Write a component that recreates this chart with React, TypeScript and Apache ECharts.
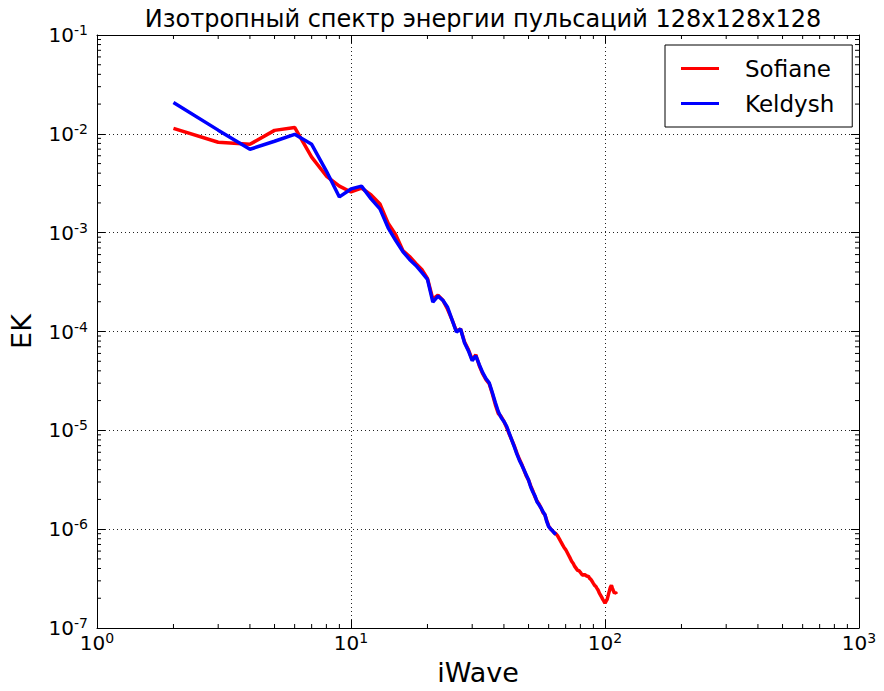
import React, { useEffect, useRef } from "react";
import * as echarts from "echarts";

const FONT = "DejaVu Sans";

const titleText = "Изотропный спектр энергии пульсаций 128x128x128";
const xName = "iWave";
const yName = "EK";
const seriesNames = ["Sofiane", "Keldysh"];

const kSofiane = [
  2, 3, 4, 5, 6, 7, 8, 9, 10, 11, 12, 13, 14, 15, 16, 17, 18, 19, 20, 21,
  22, 23, 24, 25, 26, 27, 28, 29, 30, 31, 32, 33, 34, 35, 36, 37, 38, 39, 40, 41,
  42, 43, 44, 45, 46, 47, 48, 49, 50, 51, 52, 53, 54, 55, 56, 57, 58, 59, 60, 61,
  62, 63, 64, 65, 66, 67, 68, 69, 70, 71, 72, 73, 74, 75, 76, 77, 78, 79, 80, 81,
  82, 83, 84, 85, 86, 87, 88, 89, 90, 91, 92, 93, 94, 95, 96, 97, 98, 99, 100, 101,
  102, 103, 104, 105, 106, 107, 108, 109, 110, 111,
];
const ekSofiane = [
  1.135e-2, 8.22e-3, 7.83e-3, 1.084e-2, 1.161e-2, 5.81e-3, 3.74e-3, 2.96e-3, 2.58e-3, 2.83e-3,
  2.41e-3, 1.95e-3, 1.25e-3, 9.55e-4, 6.59e-4, 5.74e-4, 4.88e-4, 4.25e-4, 3.45e-4, 2.12e-4,
  2.33e-4, 2.07e-4, 1.68e-4, 1.31e-4, 1.01e-4, 1.06e-4, 7.84e-5, 6.52e-5, 5.18e-5, 5.81e-5,
  4.5e-5, 3.74e-5, 3.26e-5, 2.96e-5, 2.36e-5, 1.82e-5, 1.48e-5, 1.38e-5, 1.23e-5, 1.07e-5,
  9.12e-6, 7.93e-6, 6.9e-6, 5.87e-6, 5.12e-6, 4.55e-6, 3.96e-6, 3.45e-6, 3.14e-6, 2.74e-6,
  2.44e-6, 2.12e-6, 1.93e-6, 1.8e-6, 1.64e-6, 1.47e-6, 1.4e-6, 1.22e-6, 1.08e-6, 1.01e-6,
  9.66e-7, 9.23e-7, 9.02e-7, 8.61e-7, 8.03e-7, 7.48e-7, 6.98e-7, 6.52e-7, 6.22e-7, 5.81e-7,
  5.42e-7, 5.06e-7, 4.71e-7, 4.5e-7, 4.2e-7, 4.01e-7, 3.83e-7, 3.8e-7, 3.66e-7, 3.49e-7,
  3.41e-7, 3.47e-7, 3.41e-7, 3.33e-7, 3.35e-7, 3.18e-7, 3.1e-7, 2.97e-7, 2.83e-7, 2.7e-7,
  2.64e-7, 2.52e-7, 2.41e-7, 2.25e-7, 2.15e-7, 2.05e-7, 1.95e-7, 1.87e-7, 1.78e-7, 1.87e-7,
  1.95e-7, 2.15e-7, 2.36e-7, 2.58e-7, 2.7e-7, 2.52e-7, 2.36e-7, 2.25e-7, 2.3e-7, 2.2e-7,
];

const kKeldysh = [
  2, 3, 4, 5, 6, 7, 8, 9, 10, 11, 12, 13, 14, 15, 16, 17, 18, 19, 20, 21,
  22, 23, 24, 25, 26, 27, 28, 29, 30, 31, 32, 33, 34, 35, 36, 37, 38, 39, 40, 41,
  42, 43, 44, 45, 46, 47, 48, 49, 50, 51, 52, 53, 54, 55, 56, 57, 58, 59, 60, 61,
  62, 63, 64,
];
const ekKeldysh = [
  2.07e-2, 1.09e-2, 6.98e-3, 8.41e-3, 9.89e-3, 7.83e-3, 4.2e-3, 2.3e-3, 2.77e-3, 2.96e-3,
  2.2e-3, 1.74e-3, 1.12e-3, 8.32e-4, 6.44e-4, 5.36e-4, 4.66e-4, 3.96e-4, 3.37e-4, 1.98e-4,
  2.28e-4, 2.07e-4, 1.76e-4, 1.31e-4, 9.89e-5, 1.06e-4, 7.66e-5, 6.37e-5, 5.06e-5, 5.68e-5,
  4.61e-5, 3.83e-5, 3.33e-5, 3.03e-5, 2.41e-5, 1.91e-5, 1.55e-5, 1.35e-5, 1.23e-5, 1.1e-5,
  9.33e-6, 7.93e-6, 6.75e-6, 5.74e-6, 4.99e-6, 4.45e-6, 3.96e-6, 3.53e-6, 3.14e-6, 2.67e-6,
  2.38e-6, 2.17e-6, 1.89e-6, 1.76e-6, 1.64e-6, 1.5e-6, 1.4e-6, 1.19e-6, 1.06e-6, 1.01e-6,
  9.66e-7, 9.23e-7, 8.81e-7,
];

const X_MIN = 1;
const X_MAX = 1000;
const Y_MIN = 1e-7;
const Y_MAX = 1e-1;

const xMinorTicks = [
  2, 3, 4, 5, 6, 7, 8, 9, 20, 30, 40, 50, 60, 70, 80, 90, 200, 300, 400, 500, 600, 700, 800, 900,
];
const yMinorTicks = [
  2e-7, 3e-7, 4e-7, 5e-7, 6e-7, 7e-7, 8e-7, 9e-7,
  2e-6, 3e-6, 4e-6, 5e-6, 6e-6, 7e-6, 8e-6, 9e-6,
  2e-5, 3e-5, 4e-5, 5e-5, 6e-5, 7e-5, 8e-5, 9e-5,
  2e-4, 3e-4, 4e-4, 5e-4, 6e-4, 7e-4, 8e-4, 9e-4,
  2e-3, 3e-3, 4e-3, 5e-3, 6e-3, 7e-3, 8e-3, 9e-3,
  2e-2, 3e-2, 4e-2, 5e-2, 6e-2, 7e-2, 8e-2, 9e-2,
];

const powLabel = (v: number) => {
  const e = Math.round(Math.log10(v));
  return `{a|10}{b|${e}}`;
};

const richLabel = {
  a: { fontSize: 20, fontFamily: FONT, color: "#000", lineHeight: 24 },
  b: { fontSize: 14, fontFamily: FONT, color: "#000", lineHeight: 12, verticalAlign: "top" },
};

const MINOR = 4;
const MAJOR = 8;

export default function App() {
  const ref = useRef<HTMLDivElement>(null);
  useEffect(() => {
    if (!ref.current) return;
    const chart = echarts.init(ref.current, null, { renderer: "svg" });
    const tickStyle = { stroke: "#000", lineWidth: 1 };
    const baseX = {
      type: "log",
      logBase: 10,
      min: X_MIN,
      max: X_MAX,
      axisLine: { show: true, lineStyle: { color: "#000", width: 1 } },
      axisTick: { show: true, inside: true, length: MAJOR, lineStyle: { color: "#000" } },
      minorTick: { show: false },
    };
    const baseY = {
      type: "log",
      logBase: 10,
      min: Y_MIN,
      max: Y_MAX,
      axisLine: { show: true, lineStyle: { color: "#000", width: 1 } },
      axisTick: { show: true, inside: true, length: MAJOR, lineStyle: { color: "#000" } },
      minorTick: { show: false },
    };
    chart.setOption({
      animation: false,
      backgroundColor: "#fff",
      title: {
        text: titleText,
        left: 478,
        top: 2,
        textAlign: "center",
        textStyle: { fontFamily: FONT, fontSize: 24, fontWeight: "normal", color: "#000" },
      },
      grid: { left: 97, right: 25, top: 35, bottom: 59, containLabel: false },
      legend: {
        data: seriesNames,
        orient: "vertical",
        left: 665,
        top: 45,
        padding: [11, 18, 11, 16],
        itemWidth: 38,
        itemHeight: 3,
        itemGap: 10,
        icon: "rect",
        borderColor: "#000",
        borderWidth: 1,
        borderRadius: 0,
        backgroundColor: "#fff",
        textStyle: { fontFamily: FONT, fontSize: 23, lineHeight: 25, color: "#000", padding: [0, 0, 0, 21] },
      },
      xAxis: [
        {
          ...baseX,
          position: "bottom",
          name: xName,
          nameLocation: "middle",
          nameGap: 31,
          nameTextStyle: { fontFamily: FONT, fontSize: 27, color: "#000" },
          axisLabel: { formatter: powLabel, rich: richLabel, margin: 3 },
          splitLine: { show: true, lineStyle: { color: "#222", type: [1, 3], width: 1 } },
        },
        {
          ...baseX,
          position: "top",
          axisLabel: { show: false },
          splitLine: { show: false },
        },
      ],
      yAxis: [
        {
          ...baseY,
          position: "left",
          name: yName,
          nameLocation: "middle",
          nameGap: 62,
          nameTextStyle: { fontFamily: FONT, fontSize: 27, color: "#000" },
          axisLabel: { formatter: powLabel, rich: richLabel, margin: 9 },
          splitLine: { show: true, lineStyle: { color: "#222", type: [1, 3], width: 1 } },
        },
        {
          ...baseY,
          position: "right",
          axisLabel: { show: false },
          splitLine: { show: false },
        },
      ],
      series: [
        {
          name: seriesNames[0],
          type: "line",
          data: kSofiane.map((k, i) => [k, ekSofiane[i]]),
          symbol: "none",
          lineStyle: { color: "#ff0000", width: 3.5 },
          itemStyle: { color: "#ff0000" },
          z: 3,
        },
        {
          name: seriesNames[1],
          type: "line",
          data: kKeldysh.map((k, i) => [k, ekKeldysh[i]]),
          symbol: "none",
          lineStyle: { color: "#0000ff", width: 3.5 },
          itemStyle: { color: "#0000ff" },
          z: 4,
        },
        {
          type: "custom",
          name: "xminor",
          silent: true,
          data: xMinorTicks.map((v) => [v, 1e-4]),
          renderItem: (params: any, api: any) => {
            const v = api.value(0);
            const b = api.coord([v, Y_MIN]);
            const t = api.coord([v, Y_MAX]);
            return {
              type: "group",
              children: [
                { type: "line", shape: { x1: b[0], y1: b[1], x2: b[0], y2: b[1] - MINOR }, style: tickStyle },
                { type: "line", shape: { x1: t[0], y1: t[1], x2: t[0], y2: t[1] + MINOR }, style: tickStyle },
              ],
            };
          },
        },
        {
          type: "custom",
          name: "yminor",
          silent: true,
          data: yMinorTicks.map((v) => [10, v]),
          renderItem: (params: any, api: any) => {
            const v = api.value(1);
            const l = api.coord([X_MIN, v]);
            const r = api.coord([X_MAX, v]);
            return {
              type: "group",
              children: [
                { type: "line", shape: { x1: l[0], y1: l[1], x2: l[0] + MINOR, y2: l[1] }, style: tickStyle },
                { type: "line", shape: { x1: r[0], y1: r[1], x2: r[0] - MINOR, y2: r[1] }, style: tickStyle },
              ],
            };
          },
        },
      ],
    });
    return () => chart.dispose();
  }, []);
  return (
    <div
      ref={ref}
      style={{ position: "fixed", left: 0, top: 0, width: 884, height: 691, background: "#fff" }}
    />
  );
}
